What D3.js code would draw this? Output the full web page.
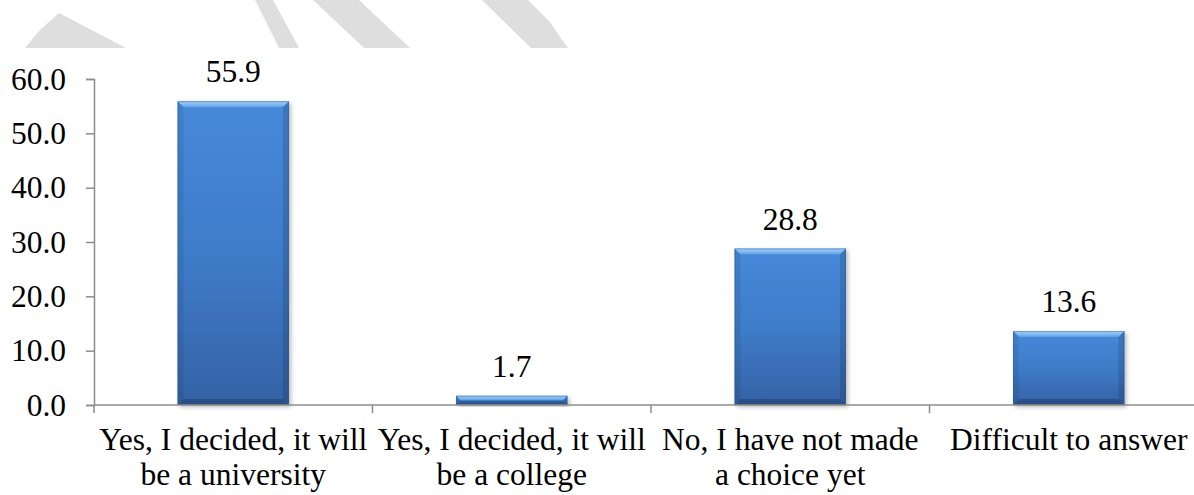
<!DOCTYPE html>
<html>
<head>
<meta charset="utf-8">
<script src="https://cdn.jsdelivr.net/npm/d3@7"></script>
<style>
  html, body { margin: 0; padding: 0; background: #ffffff; }
  svg { display: block; }
</style>
</head>
<body>
<svg id="chart" width="1194" height="495"></svg>
<script>
// ---- data ----
const categories = [
  ["Yes, I decided, it will", "be a university"],
  ["Yes, I decided, it will", "be a college"],
  ["No, I have not made", "a choice yet"],
  ["Difficult to answer"]
];
const values = [55.9, 1.7, 28.8, 13.6];
const yTicks = [0, 10, 20, 30, 40, 50, 60];

// ---- layout ----
const axisX = 94, axisY0 = 405, axisYTop = 79;
const plotRight = 1208;
const fontSize = 31.5;
const FONT = "'Liberation Serif', 'Times New Roman', Tinos, serif";

const svg = d3.select("#chart");
const defs = svg.append("defs");

// background watermark remnants (light grey decoration at top)
const wm = svg.append("g").attr("fill", "#dedede");
const wmShapes = [
  [[25,48],[40,30],[59,13],[126,48]],
  [[255,0],[273,0],[299,48],[279,48]],
  [[313,0],[359,0],[410,48],[364,48]],
  [[482,0],[528,0],[550,22],[562,40],[568,48],[531,48]]
];
wmShapes.forEach(p => wm.append("polygon").attr("points", p.map(q => q.join(",")).join(" ")));

// gradients / filters
const g1 = defs.append("linearGradient").attr("id", "barGrad").attr("x1", 0).attr("y1", 0).attr("x2", 0).attr("y2", 1);
g1.append("stop").attr("offset", "0%").attr("stop-color", "#4689d9");
g1.append("stop").attr("offset", "50%").attr("stop-color", "#3e7cc9");
g1.append("stop").attr("offset", "100%").attr("stop-color", "#3562a5");
const g2 = defs.append("linearGradient").attr("id", "topGrad").attr("x1", 0).attr("y1", 0).attr("x2", 0).attr("y2", 1);
g2.append("stop").attr("offset", "0%").attr("stop-color", "#a8d6fb");
g2.append("stop").attr("offset", "100%").attr("stop-color", "#5c9ee6");
const f = defs.append("filter").attr("id", "shadow").attr("x", "-10%").attr("y", "-10%").attr("width", "130%").attr("height", "130%");
f.append("feDropShadow").attr("dx", 2).attr("dy", 2).attr("stdDeviation", 2)
  .attr("flood-color", "#000").attr("flood-opacity", 0.28);

// scales
const x = d3.scaleBand()
  .domain(d3.range(values.length))
  .range([axisX, plotRight])
  .paddingInner(0.6)
  .paddingOuter(0.3);
const y = d3.scaleLinear().domain([0, 60]).range([axisY0, axisYTop]);
const step = x.step();

// y axis
const yAxis = d3.axisLeft(y).tickValues(yTicks).tickFormat(d3.format(".1f")).tickSize(8).tickPadding(20);
const yg = svg.append("g").attr("transform", `translate(${axisX},0)`).call(yAxis)
  .attr("font-family", FONT).attr("font-size", fontSize);
yg.select(".domain").attr("stroke", "#8c8c8c").attr("stroke-width", 1.5);
yg.selectAll(".tick line").attr("stroke", "#8c8c8c").attr("stroke-width", 1.5);
yg.selectAll(".tick text").attr("font-family", FONT).attr("font-size", fontSize).attr("fill", "#000");

// bars
const bars = svg.append("g");
values.forEach((v, i) => {
  const bx = x(i), bw = x.bandwidth(), by = y(v), bh = y(0) - y(v);
  const b = Math.min(6, bh / 2);
  const g = bars.append("g");
  g.append("rect").attr("x", bx).attr("y", by).attr("width", bw).attr("height", bh)
    .attr("fill", "url(#barGrad)").attr("filter", "url(#shadow)");
  const pts = arr => arr.map(q => q.join(",")).join(" ");
  g.append("polygon").attr("points", pts([[bx,by],[bx+bw,by],[bx+bw-b,by+b],[bx+b,by+b]])).attr("fill", "url(#topGrad)");
  g.append("polygon").attr("points", pts([[bx,by],[bx+b,by+b],[bx+b,by+bh-b],[bx,by+bh]])).attr("fill", "#000").attr("fill-opacity", 0.07);
  g.append("polygon").attr("points", pts([[bx+bw,by],[bx+bw-b,by+b],[bx+bw-b,by+bh-b],[bx+bw,by+bh]])).attr("fill", "#000").attr("fill-opacity", 0.13);
  g.append("polygon").attr("points", pts([[bx,by+bh],[bx+b,by+bh-b],[bx+bw-b,by+bh-b],[bx+bw,by+bh]])).attr("fill", "#000").attr("fill-opacity", 0.2);
  g.append("rect").attr("x", bx + 0.5).attr("y", by + 0.5).attr("width", bw - 1).attr("height", Math.max(0, bh - 1))
    .attr("fill", "none").attr("stroke", "#2b5186").attr("stroke-opacity", 0.45).attr("stroke-width", 1);
  // value label
  svg.append("text").attr("x", bx + bw / 2).attr("y", by - 19).attr("text-anchor", "middle")
    .attr("font-family", FONT).attr("font-size", fontSize).attr("fill", "#000").text(v.toFixed(1));
});

// x axis
const xg = svg.append("g");
xg.append("line").attr("x1", axisX).attr("x2", plotRight).attr("y1", axisY0).attr("y2", axisY0)
  .attr("stroke", "#8c8c8c").attr("stroke-width", 1.5);
d3.range(values.length + 1).forEach(i => {
  const tx = axisX + i * step;
  xg.append("line").attr("x1", tx).attr("x2", tx).attr("y1", axisY0).attr("y2", axisY0 + 8)
    .attr("stroke", "#8c8c8c").attr("stroke-width", 1.5);
});
categories.forEach((lines, i) => {
  const cx = x(i) + x.bandwidth() / 2;
  const t = xg.append("text").attr("text-anchor", "middle")
    .attr("font-family", FONT).attr("font-size", fontSize).attr("fill", "#000");
  lines.forEach((ln, j) => {
    t.append("tspan").attr("x", cx).attr("y", 450 + j * 35).text(ln);
  });
});
</script>
</body>
</html>
